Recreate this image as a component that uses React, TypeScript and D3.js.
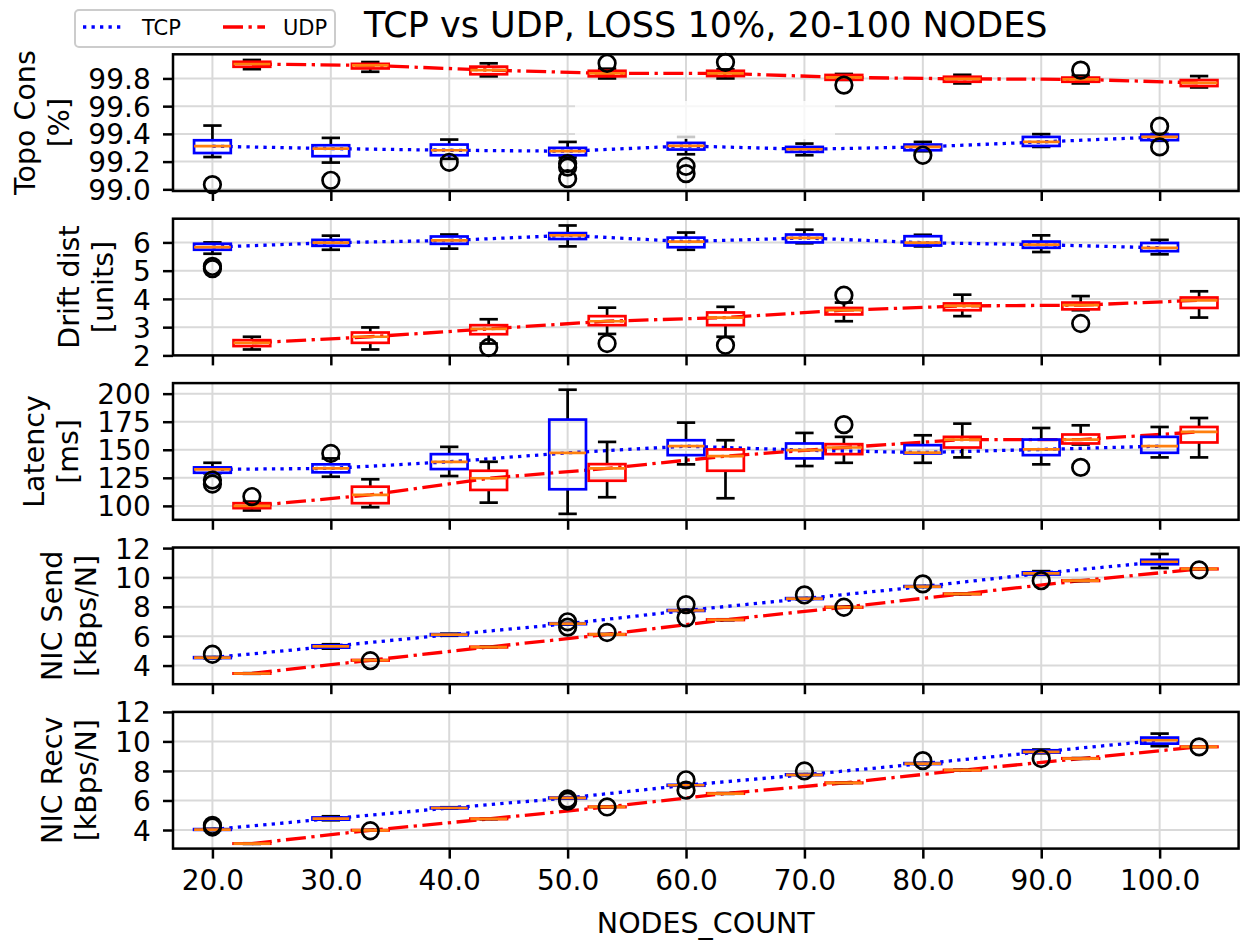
import React, { useEffect, useRef } from "react";
import * as d3 from "d3";

// x positions (TCP boxes sit on the node count, UDP boxes are shifted right)
const nodes = [20, 30, 40, 50, 60, 70, 80, 90, 100];
const udpShift = 10 / 3;

// every box: [lower whisker, q1, median, q3, upper whisker]
const topoTcp = [
  [99.233, 99.262, 99.311, 99.354, 99.46],
  [99.193, 99.239, 99.294, 99.318, 99.371],
  [99.22, 99.246, 99.282, 99.323, 99.359],
  [99.23, 99.246, 99.275, 99.299, 99.342],
  [99.253, 99.287, 99.313, 99.335, 99.378],
  [99.246, 99.27, 99.289, 99.306, 99.33],
  [99.275, 99.282, 99.306, 99.323, 99.342],
  [99.306, 99.313, 99.342, 99.378, 99.398],
  [99.35, 99.355, 99.378, 99.395, 99.4],
];
const topoTcpOut = [[99.034], [99.065], [99.195], [99.186, 99.16, 99.077], [99.166, 99.113], [], [99.246], [], [99.455, 99.306]];
const topoUdp = [
  [99.867, 99.884, 99.904, 99.92, 99.933],
  [99.848, 99.872, 99.894, 99.905, 99.918],
  [99.815, 99.83, 99.86, 99.885, 99.909],
  [99.8, 99.815, 99.836, 99.855, 99.87],
  [99.8, 99.817, 99.836, 99.855, 99.865],
  [99.79, 99.79, 99.807, 99.825, 99.832],
  [99.764, 99.776, 99.797, 99.812, 99.826],
  [99.764, 99.776, 99.793, 99.806, 99.82],
  [99.735, 99.745, 99.768, 99.788, 99.817],
];
const topoUdpOut = [[], [], [], [99.909], [99.916], [99.752], [], [99.86], []];

const driftTcp = [
  [5.6, 5.741, 5.833, 5.953, 6.0],
  [5.74, 5.88, 5.99, 6.09, 6.24],
  [5.78, 5.95, 6.07, 6.21, 6.28],
  [5.86, 6.12, 6.25, 6.33, 6.6],
  [5.74, 5.83, 6.03, 6.17, 6.35],
  [5.97, 6.0, 6.16, 6.28, 6.45],
  [5.86, 5.89, 5.99, 6.22, 6.27],
  [5.66, 5.81, 5.92, 6.03, 6.25],
  [5.58, 5.69, 5.81, 5.98, 6.09],
];
const driftTcpOut = [[5.15, 5.07], [], [], [], [], [], [], [], []];
const driftUdp = [
  [2.21, 2.33, 2.445, 2.54, 2.66],
  [2.21, 2.445, 2.66, 2.81, 2.99],
  [2.42, 2.75, 2.94, 3.07, 3.28],
  [2.76, 3.07, 3.21, 3.39, 3.69],
  [2.66, 3.07, 3.34, 3.52, 3.72],
  [3.21, 3.45, 3.6, 3.68, 3.87],
  [3.39, 3.6, 3.75, 3.84, 4.15],
  [3.6, 3.63, 3.78, 3.87, 4.1],
  [3.34, 3.68, 3.95, 4.05, 4.27],
];
const driftUdpOut = [[], [], [2.28], [2.42], [2.36], [4.13], [], [3.13], []];

const latTcp = [
  [129, 129.5, 132.5, 134.3, 138.4],
  [126, 129.9, 133.4, 137, 142.3],
  [126.6, 132.8, 139.3, 146.1, 152.6],
  [92.9, 114.8, 147.3, 176.9, 203.5],
  [137, 145.2, 153.2, 158.5, 174.2],
  [135.5, 142.3, 149.6, 155.6, 165],
  [138.4, 146.7, 147.5, 154.1, 162.9],
  [137, 145.2, 150.3, 159.1, 169.4],
  [143.2, 147.3, 153.2, 161.5, 170.3],
];
const latTcpOut = [[123, 119.5], [146.7], [], [], [], [], [], [], []];
const latUdp = [
  [95.9, 98, 100, 102.4, 103.8],
  [98.8, 102.4, 109.8, 117.1, 123.7],
  [102.9, 114.2, 124.6, 131.3, 139.3],
  [107.7, 122.4, 133.4, 137.2, 157],
  [106.8, 131.3, 144.3, 150.3, 158.5],
  [138.4, 146.1, 152, 155, 161.5],
  [143.2, 152, 159.1, 161.5, 173.3],
  [154.7, 155.6, 159.1, 163.6, 171.8],
  [143.2, 156.5, 165.9, 170.3, 178.3],
];
const latUdpOut = [[108.3], [], [], [], [], [172.4], [], [134.3], []];

const sendTcp = [
  [4.5, 4.51, 4.54, 4.57, 4.58],
  [5.15, 5.22, 5.31, 5.38, 5.45],
  [6.03, 6.06, 6.1, 6.14, 6.17],
  [6.8, 6.82, 6.85, 6.88, 6.9],
  [7.7, 7.72, 7.75, 7.78, 7.8],
  [8.52, 8.53, 8.56, 8.59, 8.6],
  [9.35, 9.36, 9.38, 9.41, 9.42],
  [10.18, 10.2, 10.28, 10.35, 10.43],
  [10.64, 10.9, 11.07, 11.2, 11.6],
];
const sendTcpOut = [[4.77], [], [], [6.62, 6.98], [8.15, 7.25], [8.81], [9.56], [9.78], []];
const sendUdp = [
  [3.44, 3.45, 3.46, 3.47, 3.48],
  [4.33, 4.34, 4.36, 4.38, 4.39],
  [5.23, 5.24, 5.26, 5.28, 5.29],
  [6.09, 6.1, 6.12, 6.14, 6.15],
  [7.09, 7.1, 7.12, 7.14, 7.15],
  [7.94, 7.95, 7.97, 7.99, 8.0],
  [8.85, 8.86, 8.88, 8.9, 8.91],
  [9.75, 9.76, 9.78, 9.8, 9.81],
  [10.55, 10.56, 10.58, 10.6, 10.61],
];
const sendUdpOut = [[], [4.33], [], [6.25], [], [7.97], [], [], [10.51]];

const recvTcp = [
  [4.0, 4.01, 4.03, 4.06, 4.08],
  [4.66, 4.7, 4.77, 4.85, 4.93],
  [5.45, 5.46, 5.49, 5.52, 5.54],
  [6.12, 6.14, 6.17, 6.2, 6.22],
  [6.98, 7.0, 7.03, 7.06, 7.08],
  [7.71, 7.72, 7.74, 7.77, 7.79],
  [8.46, 8.47, 8.5, 8.53, 8.55],
  [9.2, 9.24, 9.29, 9.4, 9.45],
  [9.68, 9.85, 10.08, 10.26, 10.53],
];
const recvTcpOut = [[4.32, 4.2], [], [], [5.95, 6.1], [7.4, 6.7], [8.0], [8.7], [8.84], []];
const recvUdp = [
  [3.06, 3.07, 3.08, 3.09, 3.1],
  [3.96, 3.97, 3.98, 4.0, 4.01],
  [4.73, 4.74, 4.75, 4.77, 4.78],
  [5.54, 5.55, 5.56, 5.58, 5.59],
  [6.45, 6.46, 6.47, 6.49, 6.5],
  [7.17, 7.18, 7.19, 7.21, 7.22],
  [8.03, 8.04, 8.05, 8.07, 8.08],
  [8.82, 8.83, 8.84, 8.86, 8.87],
  [9.61, 9.62, 9.63, 9.65, 9.66],
];
const recvUdpOut = [[], [3.95], [], [5.56], [], [], [], [], [9.63]];

// y ticks of each panel
const topoTicks = [99.0, 99.2, 99.4, 99.6, 99.8];
const driftTicks = [2, 3, 4, 5, 6];
const latTicks = [100, 125, 150, 175, 200];
const nicTicks = [4, 6, 8, 10, 12];

const panels = [
  { label: ["Topo Cons", "[%]"], domain: [98.988, 99.974], ticks: topoTicks, fmt: ".1f", tcp: topoTcp, tcpOut: topoTcpOut, udp: topoUdp, udpOut: topoUdpOut },
  { label: ["Drift dist", "[units]"], domain: [2.0, 6.84], ticks: driftTicks, fmt: "d", tcp: driftTcp, tcpOut: driftTcpOut, udp: driftUdp, udpOut: driftUdpOut },
  { label: ["Latency", "[ms]"], domain: [87.6, 209.4], ticks: latTicks, fmt: "d", tcp: latTcp, tcpOut: latTcpOut, udp: latUdp, udpOut: latUdpOut },
  { label: ["NIC Send", "[kBps/N]"], domain: [2.73, 12.04], ticks: nicTicks, fmt: "d", tcp: sendTcp, tcpOut: sendTcpOut, udp: sendUdp, udpOut: sendUdpOut },
  { label: ["NIC Recv", "[kBps/N]"], domain: [2.74, 12.0], ticks: nicTicks, fmt: "d", tcp: recvTcp, tcpOut: recvTcpOut, udp: recvUdp, udpOut: recvUdpOut },
];

const FONT = "DejaVu Sans";
const LW = 2.7;
const DOTTED = "3.3,5.2";
const DASHDOT = "20,5.5,3.3,5.5";

const App = () => {
  const svgRef = useRef<SVGSVGElement>(null);

  useEffect(() => {
    const svg = d3.select(svgRef.current);
    svg.selectAll("*").remove();

    const left = 173;
    const right = 1238.6;
    const firstTop = 54.3;
    const pitch = 164.4;
    const panelH = 136.7;
    const boxW = 3.1;

    const x = d3.scaleLinear().domain([16.67, 106.67]).range([left, right]);
    const half = (x(boxW) - x(0)) / 2;

    panels.forEach((p, i) => {
      const top = firstTop + i * pitch;
      const bottom = top + panelH;
      const y = d3.scaleLinear().domain(p.domain).range([bottom, top]);
      const g = svg.append("g");

      // grid
      g.selectAll(".vg").data(nodes).join("line")
        .attr("x1", d => x(d)).attr("x2", d => x(d))
        .attr("y1", top).attr("y2", bottom)
        .attr("stroke", "#d9d9d9").attr("stroke-width", 2);
      g.selectAll(".hg").data(p.ticks).join("line")
        .attr("x1", left).attr("x2", right)
        .attr("y1", d => y(d)).attr("y2", d => y(d))
        .attr("stroke", "#d9d9d9").attr("stroke-width", 2);

      // median lines
      const series = [
        { boxes: p.tcp, out: p.tcpOut, shift: 0, color: "blue", dash: DOTTED },
        { boxes: p.udp, out: p.udpOut, shift: udpShift, color: "red", dash: DASHDOT },
      ];
      series.forEach(s => {
        const line = d3.line<number[]>()
          .x((_, j) => x(nodes[j] + s.shift))
          .y(d => y(d[2]));
        g.append("path")
          .datum(s.boxes)
          .attr("fill", "none")
          .attr("stroke", s.color)
          .attr("stroke-width", 3.3)
          .attr("stroke-dasharray", s.dash)
          .attr("d", line);
      });

      // boxes
      series.forEach(s => {
        s.boxes.forEach((b, j) => {
          const cx = x(nodes[j] + s.shift);
          const [lo, q1, med, q3, hi] = b;
          const bg = g.append("g");
          bg.append("line").attr("x1", cx).attr("x2", cx).attr("y1", y(q3)).attr("y2", y(hi))
            .attr("stroke", "black").attr("stroke-width", LW);
          bg.append("line").attr("x1", cx).attr("x2", cx).attr("y1", y(q1)).attr("y2", y(lo))
            .attr("stroke", "black").attr("stroke-width", LW);
          [lo, hi].forEach(v => {
            bg.append("line").attr("x1", cx - half / 2).attr("x2", cx + half / 2)
              .attr("y1", y(v)).attr("y2", y(v))
              .attr("stroke", "black").attr("stroke-width", LW);
          });
          bg.append("rect")
            .attr("x", cx - half).attr("width", half * 2)
            .attr("y", y(q3)).attr("height", Math.max(0, y(q1) - y(q3)))
            .attr("fill", "none").attr("stroke", s.color).attr("stroke-width", LW);
          bg.append("line").attr("x1", cx - half).attr("x2", cx + half)
            .attr("y1", y(med)).attr("y2", y(med))
            .attr("stroke", "#ff7f0e").attr("stroke-width", LW);
          s.out[j].forEach(v => {
            bg.append("circle").attr("cx", cx).attr("cy", y(v)).attr("r", 8.3)
              .attr("fill", "none").attr("stroke", "black").attr("stroke-width", LW);
          });
        });
      });

      // faded empty box over the first panel
      if (i === 0) {
        g.append("rect")
          .attr("x", 575).attr("y", 101).attr("width", 260).attr("height", 38)
          .attr("fill", "white").attr("opacity", 0.78);
      }

      // spines
      g.append("rect")
        .attr("x", left).attr("y", top).attr("width", right - left).attr("height", panelH)
        .attr("fill", "none").attr("stroke", "black").attr("stroke-width", 2.5);

      // axes
      const yAxis = g.append("g")
        .attr("transform", `translate(${left},0)`)
        .call(d3.axisLeft(y).tickValues(p.ticks).tickSize(10).tickPadding(12.3)
          .tickFormat(d3.format(p.fmt) as any));
      const xAxis = g.append("g")
        .attr("transform", `translate(0,${bottom})`)
        .call(d3.axisBottom(x).tickValues(nodes).tickSize(10).tickPadding(12)
          .tickFormat(i === panels.length - 1 ? (d3.format(".1f") as any) : () => ""));
      [yAxis, xAxis].forEach(a => {
        a.select(".domain").remove();
        a.selectAll(".tick line").attr("stroke", "black").attr("stroke-width", 2.5);
        a.selectAll("text").attr("font-family", FONT).attr("font-size", 28).attr("fill", "black");
      });
      yAxis.selectAll("text").attr("dy", "0.36em");

      // y label to the left of the tick labels
      let tickLeft = Infinity;
      yAxis.selectAll<SVGTextElement, unknown>("text").each(function () {
        tickLeft = Math.min(tickLeft, this.getBBox().x);
      });
      tickLeft += left;
      const cy = (top + bottom) / 2;
      const b2 = tickLeft - 19.5;
      const b1 = b2 - 34;
      [b1, b2].forEach((bx, k) => {
        g.append("text")
          .attr("transform", `translate(${bx},${cy}) rotate(-90)`)
          .attr("text-anchor", "middle")
          .attr("font-family", FONT).attr("font-size", 28.5)
          .text(p.label[k]);
      });
    });

    const midX = (left + right) / 2;

    // title
    svg.append("text")
      .attr("x", midX).attr("y", 36.7)
      .attr("text-anchor", "middle")
      .attr("font-family", FONT).attr("font-size", 35)
      .text("TCP vs UDP, LOSS 10%, 20-100 NODES");

    // x label
    svg.append("text")
      .attr("x", midX).attr("y", 933)
      .attr("text-anchor", "middle")
      .attr("font-family", FONT).attr("font-size", 28.5)
      .text("NODES_COUNT");

    // legend
    const lg = svg.append("g");
    lg.append("rect")
      .attr("x", 75).attr("y", 10).attr("width", 260).attr("height", 37).attr("rx", 4)
      .attr("fill", "white").attr("stroke", "#cccccc").attr("stroke-width", 2);
    const items = [
      { name: "TCP", color: "blue", dash: DOTTED, x0: 83, tx: 142 },
      { name: "UDP", color: "red", dash: DASHDOT, x0: 223, tx: 283 },
    ];
    items.forEach(it => {
      lg.append("line")
        .attr("x1", it.x0).attr("x2", it.x0 + 42).attr("y1", 27).attr("y2", 27)
        .attr("stroke", it.color).attr("stroke-width", 3.3).attr("stroke-dasharray", it.dash);
      lg.append("text")
        .attr("x", it.tx).attr("y", 35)
        .attr("font-family", FONT).attr("font-size", 21)
        .text(it.name);
    });
  }, []);

  return (
    <svg
      ref={svgRef}
      width={1240}
      height={941}
      style={{ position: "absolute", left: 0, top: 0, background: "white" }}
    />
  );
};

export default App;
